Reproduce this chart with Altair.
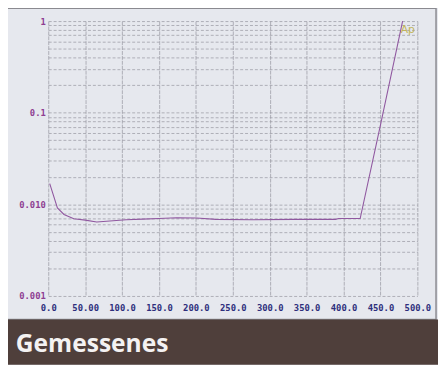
import altair as alt
import pandas as pd

# Curve
x_vals = [2, 12.4, 21.3, 34.6, 50.1, 65.6, 83.4, 105.5, 127.7, 149.9, 174.2, 200.8,
          227.0, 276.6, 333.8, 389.0, 393.6, 422.5, 451.7, 480.0]
y_vals = [0.0168, 0.00914, 0.00775, 0.00697, 0.00673, 0.00641, 0.00657, 0.00680,
          0.00690, 0.00702, 0.00714, 0.0071, 0.00685, 0.0068, 0.00685, 0.00685,
          0.0070, 0.0070, 0.085, 1.0]

x_ticks = [0, 50, 100, 150, 200, 250, 300, 350, 400, 450, 500]
decades = [0.001, 0.01, 0.1]
y_ticks = [k * d if k > 1 else d for d in decades for k in range(1, 10)] + [1]

series_name = "Ap"
caption = "Gemessenes"

df = pd.DataFrame({"x": x_vals, "y": y_vals})
one = pd.DataFrame({"a": [0]})

W, H = 376, 280

line = alt.Chart(df).mark_line(color="#9058a0", strokeWidth=1.1, clip=True).encode(
    x=alt.X("x:Q", scale=alt.Scale(domain=[0, 500], nice=False),
            axis=alt.Axis(values=x_ticks, title=None, gridDash=[4, 1],
                          labelExpr="datum.value == 50 ? '50.00' : format(datum.value, '.1f')",
                          labelColor="#2e2f7c", labelPadding=8, labelFlush=False)),
    y=alt.Y("y:Q", scale=alt.Scale(type="log", domain=[0.001, 1], nice=False),
            axis=alt.Axis(values=y_ticks, title=None, gridDash=[3, 2],
                          labelExpr="datum.value == 1 ? '1' : datum.value == 0.1 ? '0.1' : datum.value == 0.01 ? '0.010' : datum.value == 0.001 ? '0.001' : ''",
                          labelColor="#8e3e92", labelPadding=3, labelFlush=False)),
)

frame = alt.Chart(one).mark_rect(fill=None, stroke="#8a8a90", strokeWidth=1.5).encode(
    x=alt.value(-43), x2=alt.value(395), y=alt.value(-13), y2=alt.value(304)
)

band = alt.Chart(one).mark_rect(color="#4f3f3b").encode(
    x=alt.value(-45), x2=alt.value(400), y=alt.value(304), y2=alt.value(350)
)

cap = alt.Chart(one).mark_text(text=caption, align="left", baseline="alphabetic",
                               font="Open Sans", fontWeight="bold", fontSize=25,
                               color="#f4f2f2").encode(
    x=alt.value(-33), y=alt.value(337)
)

lab = alt.Chart(one).mark_text(text=series_name, align="left", baseline="middle",
                               font="DejaVu Sans", fontSize=11, color="#c2b45a").encode(
    x=alt.value(359), y=alt.value(9)
)

chart = alt.layer(frame, band, line, cap, lab).properties(
    width=W, height=H,
    autosize=alt.AutoSizeParams(type="none"),
    padding={"left": 41, "top": 10, "right": 21, "bottom": 67},
    background="#e6e8ee",
).configure_view(stroke=None).configure_axis(
    grid=True, gridColor="#9a9aa4", gridWidth=1, gridOpacity=0.75,
    ticks=False, domain=False, labelOverlap=False,
    labelFont="DejaVu Sans Mono", labelFontWeight="bold", labelFontSize=9,
)

chart.save("out.html", embed_options={"renderer": "svg", "actions": False})
